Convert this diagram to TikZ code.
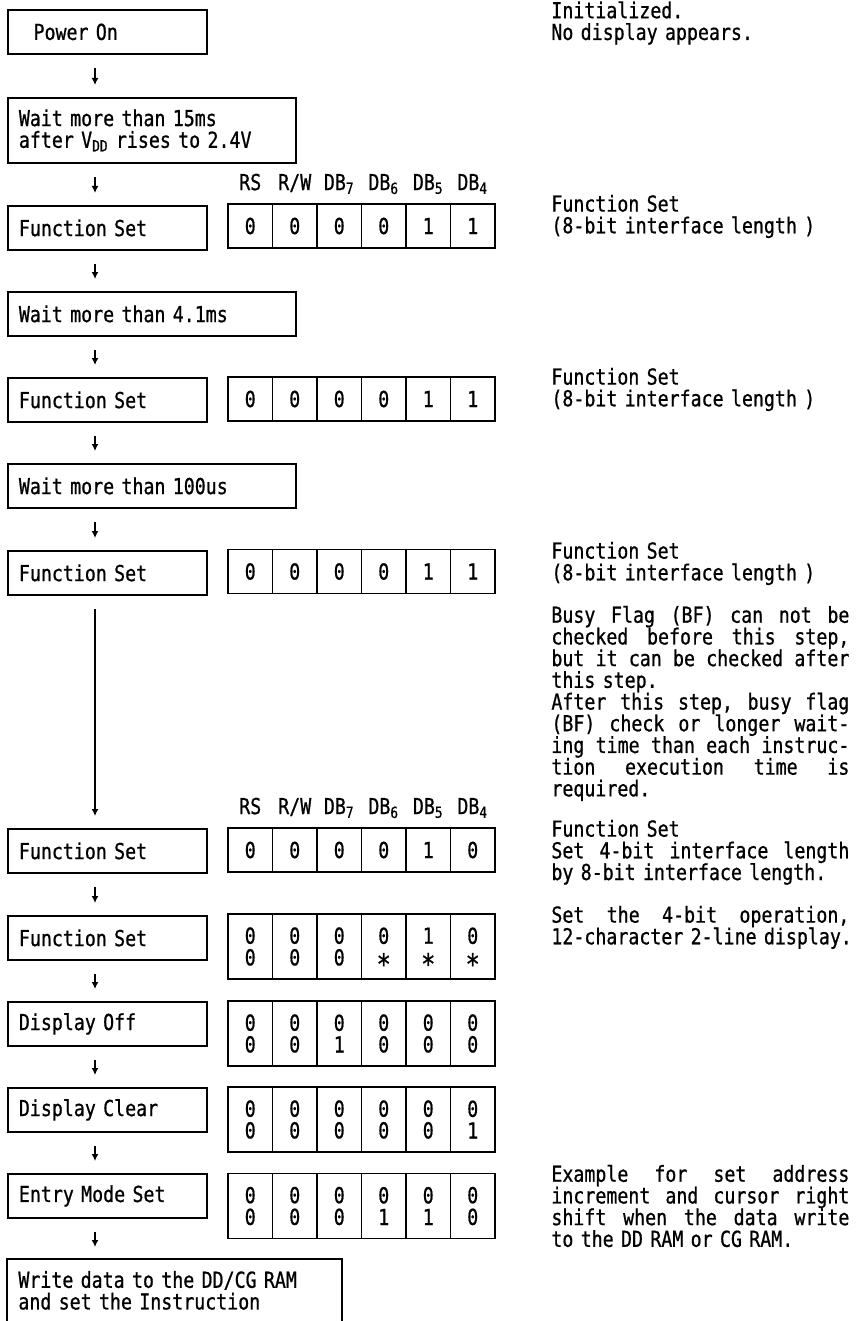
\documentclass[tikz,border=0pt]{standalone}
\usepackage{fontspec}
\newfontfamily\gothic{DejaVu Sans Mono}[FakeStretch=0.83, FakeBold=0.8]
\usetikzlibrary{positioning,arrows.meta}
\newlength\jwidth
\setlength\jwidth{149pt}
% justified line of the notes
\newcommand\jline[1]{\makebox[\jwidth][s]{\spaceskip=\fontdimen2\font plus 1fil\relax #1}}
% don't-care bit
\newcommand\dc{\raisebox{-0.4em}[0pt][0pt]{\scalebox{1.3}{*}}}
\tikzset{
  txt/.style={font=\gothic\fontsize{11pt}{10.85pt}\selectfont},
  stepbox/.style={txt, draw, line width=0.9pt, anchor=north west, align=left,
    inner xsep=5.5pt, inner ysep=0pt, text width=#1, minimum height=22pt},
  stepbox/.default=88.5pt,
  cell/.style={txt, draw, line width=0.9pt, align=center, inner sep=0pt, minimum width=22.25pt},
  note/.style={txt, anchor=north west, align=left, inner sep=0pt, text width=160pt},
  head/.style={txt, anchor=base, inner sep=0pt},
  flow/.style={line width=0.8pt, -{Latex[length=3.5pt,width=3.5pt]}}
}
\begin{document}
\begin{tikzpicture}[x=0.5pt, y=-0.5pt]
\useasboundingbox (0,0) rectangle (859,1321);
\coordinate (spine) at (95,0);

% steps
\node[stepbox] (pwr) at (7,9) {~~Power On};
\node[stepbox=133pt, minimum height=32.5pt] (vdd) at (7,97) {Wait more than 15ms\\after V\textsubscript{DD} rises to 2.4V};
\node[stepbox] (fsa) at (7,205) {Function Set};
\node[stepbox=133pt] (wta) at (7,291) {Wait more than 4.1ms};
\node[stepbox] (fsb) at (7,377) {Function Set};
\node[stepbox=133pt] (wtb) at (7,463) {Wait more than 100us};
\node[stepbox] (fsc) at (7,550) {Function Set};
\node[stepbox] (fsd) at (7,828) {Function Set};
\node[stepbox] (fse) at (7,915) {Function Set};
\node[stepbox] (doff) at (7,1001) {Display Off};
\node[stepbox] (dclr) at (7,1087) {Display Clear};
\node[stepbox] (ems) at (7,1173) {Entry Mode Set};
\node[txt, anchor=north west, align=left, inner xsep=5.5pt, inner ysep=0pt,
  text width=156pt, minimum height=31pt] (wrt) at (7,1259) {Write data to the DD/CG RAM\\and set the Instruction};
\draw[line width=0.9pt] (wrt.south west) |- (wrt.north east) -- (wrt.south east);

\foreach \a/\b in {pwr/vdd, vdd/fsa, fsa/wta, wta/fsb, fsb/wtb, wtb/fsc, fsc/fsd,
  fsd/fse, fse/doff, doff/dclr, dclr/ems, ems/wrt}
  \draw[flow] ([yshift=-6.5pt]\a.south -| spine) -- ([yshift=6pt]\b.north -| spine);

% register bits RS R/W DB7 .. DB4
\foreach \nm/\yy/\hh/\vals in {
  ra/226/22pt/{0,0,0,0,1,1},
  rb/399/22pt/{0,0,0,0,1,1},
  rc/571.5/22pt/{0,0,0,0,1,1},
  rd/850/22pt/{0,0,0,0,1,0},
  re/946.5/32.5pt/{0\\0,0\\0,0\\0,0\\\dc,1\\\dc,0\\\dc},
  rf/1033.5/32.5pt/{0\\0,0\\0,0\\1,0\\0,0\\0,0\\0},
  rg/1119.5/32.5pt/{0\\0,0\\0,0\\0,0\\0,0\\0,0\\1},
  rh/1206/32.5pt/{0\\0,0\\0,0\\0,0\\1,0\\1,0\\0}}
  \foreach \v [count=\i] in \vals
    \node[cell, minimum height=\hh] (\nm\i) at ({228+44.5*(\i-0.5)},\yy) {\v};

\foreach \h [count=\i] in {RS,R/W,DB\textsubscript{7},DB\textsubscript{6},DB\textsubscript{5},DB\textsubscript{4}} {
  \node[head] (hda\i) at ([yshift=6.5pt]ra\i.north) {\h};
  \node[head] (hdd\i) at ([yshift=6.5pt]rd\i.north) {\h};
}

% notes
\node[note] (ninit) at (551,1) {Initialized.\\No display appears.};
\node[note] (nfsa) at (551,194.5) {Function Set\\(8-bit interface length )};
\node[note] (nfsb) at (551,367.5) {Function Set\\(8-bit interface length )};
\node[note] (nfsc) at (551,541.5) {Function Set\\(8-bit interface length )};
\node[note] (nbusy) at (551,605.5) {\jline{Busy Flag (BF) can not be}\\
  \jline{checked before this step,}\\\jline{but it can be checked after}\\this step.\\
  \jline{After this step, busy flag}\\\jline{(BF) check or longer wait-}\\
  \jline{ing time than each instruc-}\\\jline{tion execution time is}\\required.};
\node[note] (nfsd) at (551,819.5) {Function Set\\\jline{Set 4-bit interface length}\\by 8-bit interface length.};
\node[note] (nfour) at (551,905.5) {\jline{Set the 4-bit operation,}\\12-character 2-line display.};
\node[note] (nexmp) at (551,1164.5) {\jline{Example for set address}\\\jline{increment and cursor right}\\
  \jline{shift when the data write}\\to the DD RAM or CG RAM.};
\end{tikzpicture}
\end{document}
